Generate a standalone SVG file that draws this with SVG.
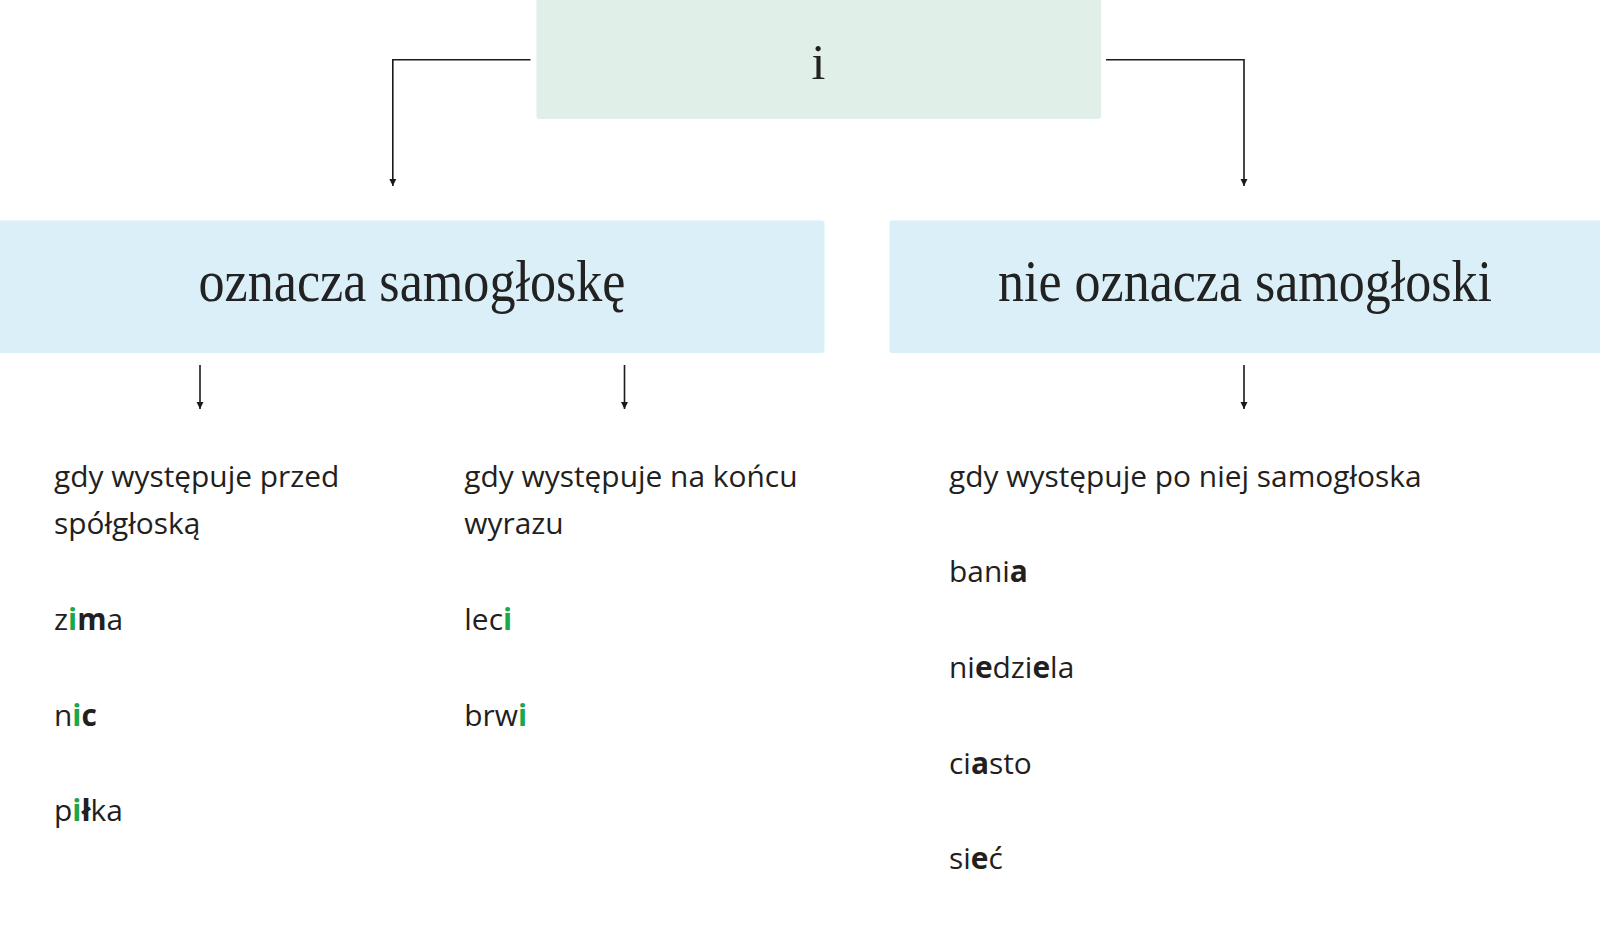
<svg xmlns="http://www.w3.org/2000/svg" width="1600" height="931" viewBox="0 0 1600 931">
<defs>
<marker id="arr" markerWidth="8" markerHeight="8" refX="7" refY="4" orient="auto" markerUnits="userSpaceOnUse">
<path d="M0,0.5 L7,4 L0,7.5 Z" fill="#1a1a1a"/>
</marker>
<style>
.head{font-family:"Liberation Serif","Times New Roman",serif;fill:#222;text-anchor:middle}
.body{font-family:"Open Sans","Noto Sans",sans-serif;font-size:29.9px;fill:#231f20}
.b{font-weight:bold}
.g{font-weight:bold;fill:#1aa84b}
.con{fill:none;stroke:#1a1a1a;stroke-width:1.6}
</style>
</defs>
<rect width="1600" height="931" fill="#ffffff"/>
<g id="node-i">
<rect x="536.5" y="-4" width="564.5" height="123" rx="3" fill="#e0efe8"/>
<text class="head" x="818.5" y="78.5" font-size="50">i</text>
</g>
<g id="node-oznacza">
<rect x="-4" y="220.5" width="828.5" height="132.5" rx="3" fill="#daeff7"/>
<text class="head" x="412" y="301" font-size="60" textLength="427" lengthAdjust="spacingAndGlyphs">oznacza samogłoskę</text>
</g>
<g id="node-nie-oznacza">
<rect x="889.5" y="220.5" width="714" height="132.5" rx="3" fill="#daeff7"/>
<text class="head" x="1245" y="301" font-size="60" textLength="494" lengthAdjust="spacingAndGlyphs">nie oznacza samogłoski</text>
</g>
<g id="connectors">
<path class="con" d="M530.5,59.7 H392.8 V186" marker-end="url(#arr)"/>
<path class="con" d="M1106,59.7 H1244 V186" marker-end="url(#arr)"/>
<path class="con" d="M200,365 V409" marker-end="url(#arr)"/>
<path class="con" d="M624.5,365 V409" marker-end="url(#arr)"/>
<path class="con" d="M1244,365 V409" marker-end="url(#arr)"/>
</g>
<g id="col-przed">
<text class="body" x="54" y="486.7">gdy występuje przed</text>
<text class="body" x="54" y="533.7">spółgłoską</text>
<text class="body" x="54" y="629.6">z<tspan class="g">i</tspan><tspan class="b">m</tspan>a</text>
<text class="body" x="54" y="725.5">n<tspan class="g">i</tspan><tspan class="b">c</tspan></text>
<text class="body" x="54" y="821.4">p<tspan class="g">i</tspan><tspan class="b">ł</tspan>ka</text>
</g>
<g id="col-koniec">
<text class="body" x="464.3" y="486.7">gdy występuje na końcu</text>
<text class="body" x="464.3" y="533.7">wyrazu</text>
<text class="body" x="464.3" y="629.6">lec<tspan class="g">i</tspan></text>
<text class="body" x="464.3" y="725.5">brw<tspan class="g">i</tspan></text>
</g>
<g id="col-po">
<text class="body" x="949" y="486.7">gdy występuje po niej samogłoska</text>
<text class="body" x="949" y="581.6">bani<tspan class="b">a</tspan></text>
<text class="body" x="949" y="677.6">ni<tspan class="b">e</tspan>dzi<tspan class="b">e</tspan>la</text>
<text class="body" x="949" y="773.5">ci<tspan class="b">a</tspan>sto</text>
<text class="body" x="949" y="869.4">si<tspan class="b">e</tspan>ć</text>
</g>
</svg>
